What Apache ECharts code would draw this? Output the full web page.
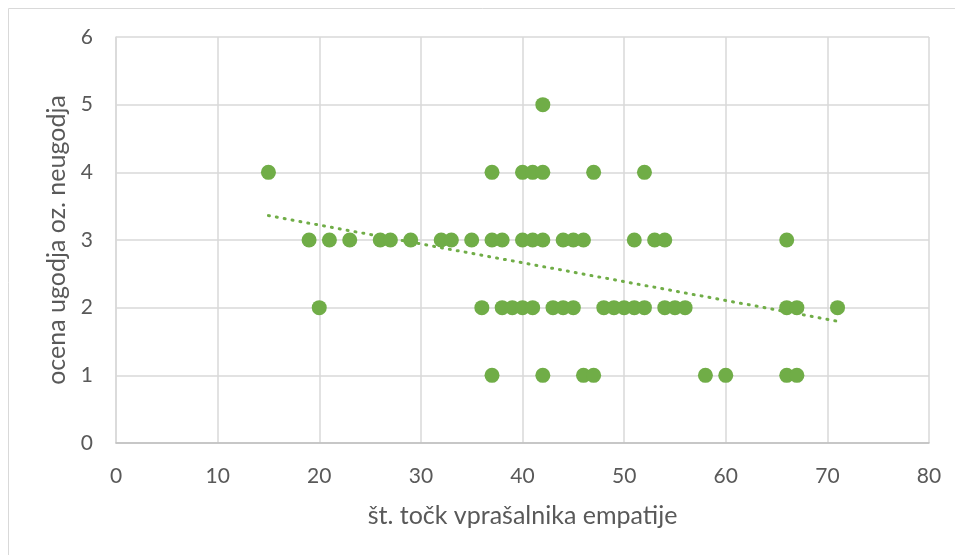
<!DOCTYPE html>
<html>
<head>
<meta charset="utf-8">
<script src="https://cdn.jsdelivr.net/npm/echarts@6/dist/echarts.min.js"></script>
<style>
  html, body { margin: 0; padding: 0; background: #fff; }
  #chart { width: 955px; height: 555px; }
</style>
</head>
<body>
<div id="chart"></div>
<script>
// točke po vrsticah (ocena -> št. točk)
const score5 = [42];
const score4 = [15, 37, 40, 41, 42, 47, 52];
const score3 = [19, 21, 23, 26, 27, 29, 32, 33, 35, 37, 38, 40, 41, 42, 44, 45, 46, 51, 53, 54, 66];
const score2 = [20, 36, 38, 39, 40, 41, 43, 44, 45, 48, 49, 50, 51, 52, 54, 55, 56, 66, 67, 71];
const score1 = [37, 42, 46, 47, 58, 60, 66, 67];

// linearni trend (odčitano s slike)
const trendX = [15, 71];
const trendY = [3.36, 1.8];

const xTicks = [0, 80, 10];
const yTicks = [0, 6, 1];

const points = [];
[[5, score5], [4, score4], [3, score3], [2, score2], [1, score1]].forEach(([y, xs]) => {
  xs.forEach(x => points.push([x, y]));
});

const myChart = echarts.init(document.getElementById('chart'));
const font = 'Lato';
const option = {
  animation: false,
  graphic: [{
    type: 'rect',
    shape: { x: 8.5, y: 8.5, width: 960, height: 560 },
    style: { fill: null, stroke: '#d9d9d9', lineWidth: 1 }
  }],
  grid: { left: 116, right: 26, top: 37, bottom: 112 },
  xAxis: {
    type: 'value',
    min: xTicks[0], max: xTicks[1], interval: xTicks[2],
    name: 'št. točk vprašalnika empatije',
    nameLocation: 'middle',
    nameGap: 60,
    nameTextStyle: { color: '#595959', fontSize: 25, fontFamily: font },
    axisLine: { show: true, lineStyle: { color: '#bfbfbf', width: 1.5 } },
    axisTick: { show: false },
    axisLabel: { color: '#595959', fontSize: 21, fontFamily: font, margin: 23 },
    splitLine: { show: true, lineStyle: { color: '#d9d9d9', width: 1.5 } }
  },
  yAxis: {
    type: 'value',
    min: yTicks[0], max: yTicks[1], interval: yTicks[2],
    name: 'ocena ugodja oz. neugodja',
    nameLocation: 'middle',
    nameGap: 44,
    nameTextStyle: { color: '#595959', fontSize: 25, fontFamily: font },
    axisLine: { show: true, lineStyle: { color: '#d9d9d9', width: 1.5 } },
    axisTick: { show: false },
    axisLabel: { color: '#595959', fontSize: 21, fontFamily: font, margin: 23 },
    splitLine: { show: true, lineStyle: { color: '#d9d9d9', width: 1.5 } }
  },
  series: [
    {
      type: 'scatter',
      data: points,
      symbolSize: 15,
      itemStyle: { color: '#70ad47', opacity: 1 }
    },
    {
      type: 'line',
      data: trendX.map((x, i) => [x, trendY[i]]),
      symbol: 'none',
      lineStyle: { color: '#70ad47', width: 3, type: [1, 7], cap: 'round' },
      z: 1
    }
  ]
};
option && myChart.setOption(option);
</script>
</body>
</html>
